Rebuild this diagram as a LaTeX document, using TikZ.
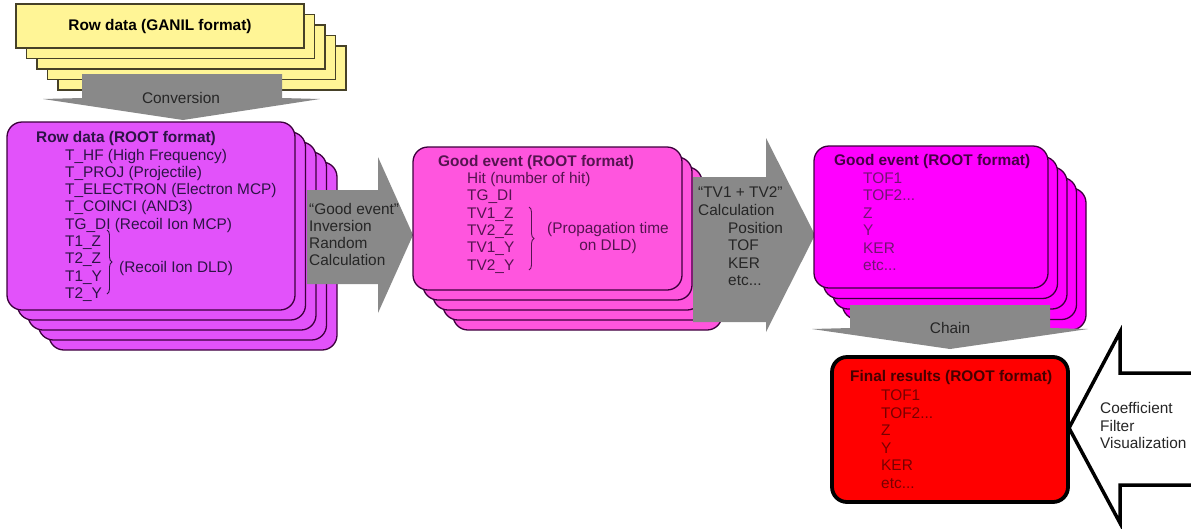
\documentclass[tikz,border=0pt]{standalone}
\usepackage{fontspec}
\setmainfont{Liberation Sans}
\usetikzlibrary{decorations.pathreplacing}
\definecolor{yel}{RGB}{255,245,150}
\definecolor{yelb}{RGB}{70,65,40}
\definecolor{mag1}{RGB}{226,82,250}
\definecolor{mag2}{RGB}{255,85,222}
\definecolor{mag3}{RGB}{255,0,255}
\definecolor{magb}{RGB}{60,0,60}
\definecolor{gry}{RGB}{137,137,137}
\definecolor{txa}{RGB}{38,38,38}
\definecolor{tx1}{RGB}{45,20,70}
\definecolor{tx2}{RGB}{85,20,80}
\definecolor{tx3h}{RGB}{70,0,70}
\definecolor{tx3}{RGB}{115,20,115}
\definecolor{txrh}{RGB}{70,0,0}
\definecolor{txr}{RGB}{120,0,0}
\newcommand\dts{.{}.{}.}
\tikzset{
  fnt/.style={font=\fontsize{15.4}{17.3}\selectfont},
  txt/.style={fnt, inner sep=0pt, anchor=base west},
  hd/.style={txt, font=\fontsize{15.4}{17.3}\selectfont\bfseries},
  ystk/.style={fill=yel, draw=yelb, line width=1.3pt},
  stk1/.style={fill=mag1, draw=magb, line width=1.3pt, rounded corners=15pt},
  stk2/.style={fill=mag2, draw=magb, line width=1.3pt, rounded corners=15pt},
  stk3/.style={fill=mag3, draw=magb, line width=1.3pt, rounded corners=15pt},
  garrow/.style={fill=gry, draw=none},
  brc/.style={decorate, decoration={brace, amplitude=5pt}, line width=0.9pt},
}
\begin{document}
\begin{tikzpicture}[x=1pt, y=-1pt]
\useasboundingbox (0,0) rectangle (1191,528);
\clip (0,0) rectangle (1191,528);
\fill[white] (0,0) rectangle (1191,528);

% ---------- yellow stack ----------
\foreach \k in {4,3,2,1,0}
  \draw[ystk, shift={(10.5*\k,10.5*\k)}] (16,4) rectangle (304,48);
\node[hd, anchor=center, text=black] (ganil) at (160,26.5) {Row data (GANIL format)};

% conversion arrow
\fill[garrow] (82,74) -- (282,74) -- (282,98) -- (320,99) -- (183,120) -- (43,99) -- (82,98) -- cycle;
\node[fnt, inner sep=0pt, text=txa] (conv) at (181,98) {Conversion};

% ---------- stack 1 ----------
\foreach \k in {4,3,2,1,0}
  \draw[stk1, shift={(10.5*\k,10*\k)}] (7,122) rectangle (295,310);
\node[hd, text=tx1] (s1h) at (36,142.5) {Row data (ROOT format)};
\foreach \t [count=\i from 0] in {T\_HF (High Frequency), T\_PROJ (Projectile), T\_ELECTRON (Electron MCP), T\_COINCI (AND3), TG\_DI (Recoil Ion MCP), T1\_Z, T2\_Z, T1\_Y, T2\_Y}
  \node[txt, text=tx1] (s1l\i) at (65,{160+17.3*\i}) {\t};
\draw[brc, tx1] (107,230) -- (107,294);
\node[txt, text=tx1] (s1dld) at (119,272.5) {(Recoil Ion DLD)};

% arrow 2
\fill[garrow] (307,190) -- (378,190) -- (378,157) -- (413,235) -- (378,313) -- (378,284) -- (307,284) -- cycle;
\foreach \t [count=\i from 0] in {“Good event”, Inversion, Random, Calculation}
  \node[txt, text=txa] (a2l\i) at (309,{214+17.3*\i}) {\t};

% ---------- stack 2 ----------
\foreach \k in {4,3,2,1,0}
  \draw[stk2, shift={(10*\k,10*\k)}] (413,147) rectangle (682,290);
\node[hd, text=tx2] (s2h) at (438,166.5) {Good event (ROOT format)};
\foreach \t [count=\i from 0] in {Hit (number of hit), TG\_DI, TV1\_Z, TV2\_Z, TV1\_Y, TV2\_Y}
  \node[txt, text=tx2] (s2l\i) at (467,{183.5+17.3*\i}) {\t};
\draw[brc, tx2] (529,207) -- (529,270);
\node[fnt, inner sep=0pt, text=tx2, align=center] (s2p) at (608,238) {(Propagation time\\on DLD)};

% arrow 3
\fill[garrow] (693,177) -- (766,177) -- (766,138) -- (815,235) -- (766,332) -- (766,322) -- (693,322) -- cycle;
\node[txt, text=txa] (a3l0) at (698,197.5) {“TV1 + TV2”};
\node[txt, text=txa] (a3l1) at (698,215) {Calculation};
\foreach \t [count=\i from 0] in {Position, TOF, KER, etc\dts}
  \node[txt, text=txa] (a3m\i) at (728,{233+17.5*\i}) {\t};

% ---------- stack 3 ----------
\foreach \k in {4,3,2,1,0}
  \draw[stk3, shift={(9.5*\k,10.5*\k)}] (814,146) rectangle (1048,288);
\node[hd, text=tx3h] (s3h) at (834,165.5) {Good event (ROOT format)};
\foreach \t [count=\i from 0] in {TOF1, TOF2\dts, Z, Y, KER, etc\dts}
  \node[txt, text=tx3] (s3l\i) at (863,{183+17.5*\i}) {\t};

% chain arrow
\fill[garrow] (850,305) -- (1050,305) -- (1050,328) -- (1088,329) -- (950,349) -- (812,329) -- (850,328) -- cycle;
\node[fnt, inner sep=0pt, text=txa] (chain) at (950,328) {Chain};

% ---------- final box ----------
\draw[fill=red, draw=black, line width=3.8pt, rounded corners=15pt] (832,357) rectangle (1068,502);
\node[hd, text=txrh] (rh) at (850,381) {Final results (ROOT format)};
\foreach \t [count=\i from 0] in {TOF1, TOF2\dts, Z, Y, KER, etc\dts}
  \node[txt, text=txr] (rl\i) at (881,{400.5+17.5*\i}) {\t};

% white arrow
\draw[fill=white, draw=black, line width=3.5pt, line join=miter] (1240,373) -- (1120,373) -- (1120,332) -- (1069,428) -- (1120,523) -- (1120,485) -- (1240,485);
\foreach \t [count=\i from 0] in {Coefficient, Filter, Visualization}
  \node[txt, text=txa] (wl\i) at (1100,{413.5+17.5*\i}) {\t};
\end{tikzpicture}
\end{document}
